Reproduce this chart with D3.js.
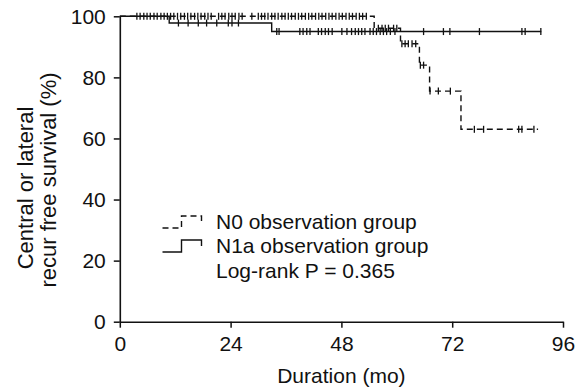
<!DOCTYPE html>
<html><head><meta charset="utf-8">
<script src="https://cdn.jsdelivr.net/npm/d3@7"></script>
<style>
body{margin:0;background:#fff}
svg{display:block;font-family:"Liberation Sans",Arial,Helvetica,sans-serif}
</style></head><body>
<svg id="c" width="585" height="392"></svg>
<script>
// ---- data ----
const xTicks = [0, 24, 48, 72, 96];
const yTicks = [0, 20, 40, 60, 80, 100];
const groups = ["N0 observation group", "N1a observation group"];
const pText = "Log-rank P = 0.365";

// step points: [month, survival %]
const n0Steps = [[0,100],[55.1,96.1],[60.8,91.0],[64.9,84.0],[67.1,75.5],[73.9,63.0]];
const n0End = 90.6;
const n0Censor = [3.7,4.4,5.2,5.9,6.6,7.4,8.1,8.9,9.6,10.3,11.0,11.7,12.5,13.2,14.0,14.7,15.4,16.2,16.9,17.6,18.4,19.1,19.8,21.4,22.1,22.8,23.6,24.3,25.0,25.8,26.5,28.6,30.0,30.7,31.4,32.1,32.9,33.6,34.3,35.1,35.8,36.5,37.2,38.0,38.7,39.4,40.2,40.9,41.6,42.4,43.1,43.8,44.6,45.3,46.0,46.8,47.5,48.2,49.0,49.7,50.4,51.2,51.9,52.6,53.4,
  56.0,56.8,57.5,58.2,59.3,60.0,
  61.1,61.8,62.5,63.3,64.1,
  65.1,65.8,
  67.2,69.0,71.6,
  76.8,78.8,86.4,87.1,89.7];

const n1aSteps = [[0,100],[10.7,97.8],[32.9,95.0]];
const n1aEnd = 91.3;
const n1aCensor = [12.7,14.8,17.0,18.8,21.0,23.5,24.3,25.7,
  34.0,34.5,39.0,39.7,40.5,41.2,43.0,43.7,44.5,45.2,46.0,48.1,49.2,50.2,51.0,51.7,52.4,53.1,54.2,54.9,55.6,56.4,57.1,57.8,58.6,59.6,
  65.8,70.1,71.5,77.9,87.1,87.8,91.2];

// ---- chart ----
const svg = d3.select("#c");
const x = d3.scaleLinear().domain([0, 96]).range([119.8, 563]);
const y = d3.scaleLinear().domain([0, 100]).range([321.7, 16.3]);
const FS = 21;
const ink = "#111";

const xAxis = svg.append("g").attr("transform", `translate(0,${y(0)})`)
  .call(d3.axisBottom(x).tickValues(xTicks).tickSize(6).tickSizeOuter(0).tickPadding(8));
const yAxis = svg.append("g").attr("transform", `translate(${x(0)},0)`)
  .call(d3.axisLeft(y).tickValues(yTicks).tickSize(6).tickSizeOuter(0).tickPadding(8));
[xAxis, yAxis].forEach(g => {
  g.select(".domain").attr("stroke", ink).attr("stroke-width", 1.6);
  g.selectAll(".tick line").attr("stroke", ink).attr("stroke-width", 1.5);
  g.selectAll(".tick text").attr("fill", ink).style("font-size", FS + "px")
    .style("font-family", '"Liberation Sans",Arial,sans-serif');
});

function survAt(steps, t) {
  let v = steps[0][1];
  for (const s of steps) if (s[0] <= t) v = s[1];
  return v;
}
const line = d3.line().x(d => x(d[0])).y(d => y(d[1])).curve(d3.curveStepAfter);

function drawGroup(steps, end, censor, dash) {
  const pts = steps.concat([[end, steps[steps.length - 1][1]]]);
  svg.append("path").attr("d", line(pts)).attr("fill", "none")
    .attr("stroke", ink).attr("stroke-width", 1.4)
    .attr("stroke-dasharray", dash ? "6,4" : null);
  svg.append("g").selectAll("line").data(censor).join("line")
    .attr("x1", d => x(d)).attr("x2", d => x(d))
    .attr("y1", d => y(survAt(steps, d)) - 3.5)
    .attr("y2", d => y(survAt(steps, d)) + 3.5)
    .attr("stroke", ink).attr("stroke-width", 1.3);
}
drawGroup(n1aSteps, n1aEnd, n1aCensor, false);
drawGroup(n0Steps, n0End, n0Censor, true);

// legend
const lg = svg.append("g");
const rows = [222, 246];
rows.forEach((ry, i) => {
  lg.append("path")
    .attr("d", `M162.5,${ry + 6}H181.5V${ry - 6}H201.5V${ry}`)
    .attr("fill", "none").attr("stroke", ink).attr("stroke-width", 1.4)
    .attr("stroke-dasharray", i === 0 ? "6,4" : null);
  lg.append("text").attr("x", 216).attr("y", ry + 7).attr("fill", ink)
    .style("font-size", FS + "px").text(groups[i]);
});
lg.append("text").attr("x", 216).attr("y", 278).attr("fill", ink)
  .style("font-size", FS + "px").text(pText);

// axis titles
svg.append("text").attr("x", x(48)).attr("y", 383).attr("text-anchor", "middle")
  .attr("fill", ink).style("font-size", FS + "px").text("Duration (mo)");
const yt = svg.append("g").attr("fill", ink).style("font-size", "22px").attr("text-anchor", "middle");
yt.append("text").attr("transform", "translate(33,188) rotate(-90)").text("Central or lateral");
yt.append("text").attr("transform", "translate(56,180) rotate(-90)").text("recur free survival (%)");
</script>
</body></html>
